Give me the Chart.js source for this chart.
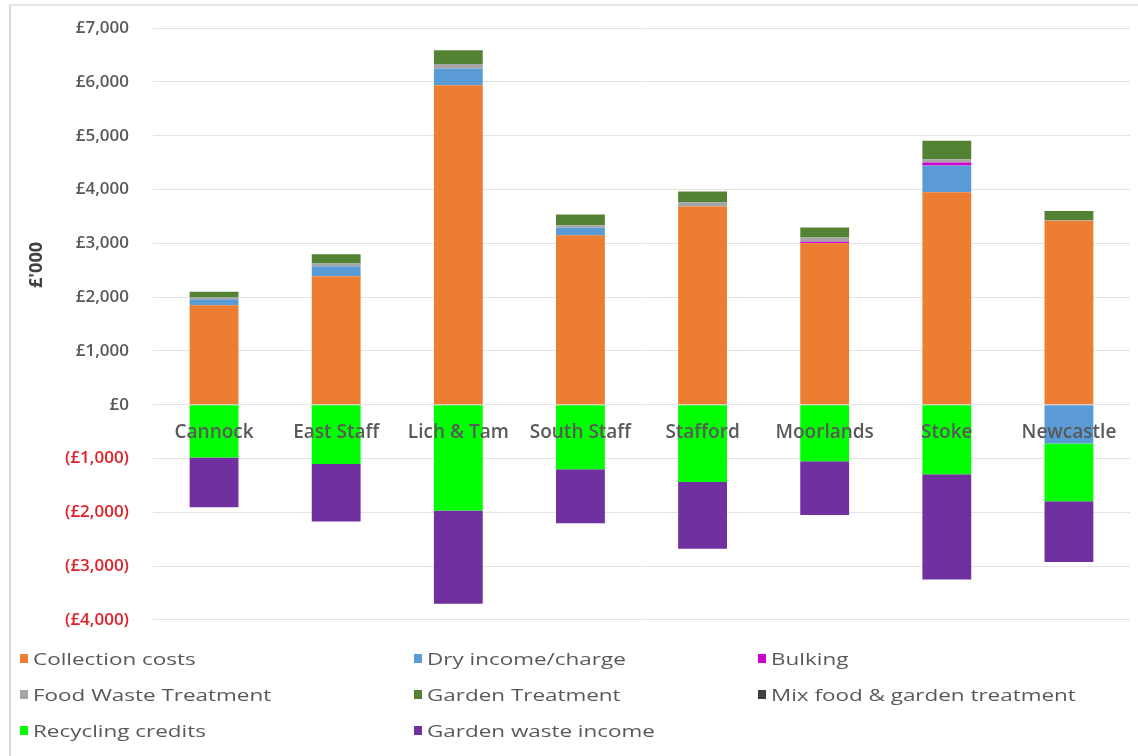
<!DOCTYPE html>
<html>
<head>
<meta charset="utf-8">
<script src="https://cdn.jsdelivr.net/npm/chart.js@4"></script>
<style>
  html, body { margin: 0; padding: 0; background: #fff; }
  body { width: 1138px; height: 756px; overflow: hidden; position: relative; font-family: "Open Sans", sans-serif; }
  #frame { position: absolute; left: 9px; top: 4px; width: 1129px; height: 752px; border-left: 2px solid #d9d9d9; border-top: 2px solid #e6e6e6; }
  #wrap { position: absolute; left: 11px; top: -6px; width: 1127px; height: 660px; }
  #legend { position: absolute; left: 20px; top: 640px; display: grid; grid-template-columns: 394px 344px auto; grid-auto-rows: 36px; }
  #legend div { display: flex; align-items: center; font-size: 17px; color: #595959; white-space: nowrap; }
  #legend span { display: inline-block; width: 8px; height: 9px; margin-right: 5px; }
  #legend em { font-style: normal; display: inline-block; transform: scaleX(1.32); transform-origin: left center; }
</style>
</head>
<body>
<div id="frame"></div>
<div id="wrap"><canvas id="costs_chart"></canvas></div>
<div id="legend"></div>
<script>
// councils, £'000
var categories = ['Cannock', 'East Staff', 'Lich & Tam', 'South Staff', 'Stafford', 'Moorlands', 'Stoke', 'Newcastle'];

var collectionCosts  = [1850, 2390, 5940, 3150, 3685, 3000, 3950, 3420];
var dryIncome        = [110, 185, 310, 140, 0, 0, 495, -720];
var bulking          = [0, 0, 0, 0, 0, 30, 60, 0];
var foodWaste        = [35, 50, 85, 45, 80, 80, 60, 15];
var gardenTreatment  = [105, 170, 255, 200, 200, 185, 340, 165];
var mixTreatment     = [0, 0, 0, 0, 0, 0, 0, 0];
var recyclingCredits = [-980, -1105, -1970, -1200, -1440, -1050, -1295, -1075];
var gardenIncome     = [-925, -1065, -1730, -1005, -1240, -1000, -1955, -1130];

var yTicks = [7000, 6000, 5000, 4000, 3000, 2000, 1000, 0, -1000, -2000, -3000, -4000];

function money(v) {
  var s = '£' + Math.abs(v).toLocaleString('en-GB');
  return v < 0 ? '(' + s + ')' : s;
}

function series(label, data, colour) {
  return { label: label, data: data, backgroundColor: colour, borderWidth: 0 };
}

// rotated "£'000" beside the value axis
var axisTitle = {
  id: 'axisTitle',
  afterDraw: function(chart) {
    var c = chart.ctx;
    c.save();
    c.translate(26, 271);
    c.rotate(-Math.PI / 2);
    c.font = 'bold 18px "Open Sans"';
    c.fillStyle = '#404040';
    c.textAlign = 'center';
    c.textBaseline = 'middle';
    c.fillText("£'000", 0, 0);
    c.restore();
  }
};

// three-column legend under the canvas
var htmlLegend = {
  id: 'htmlLegend',
  afterUpdate: function(chart) {
    var box = document.getElementById('legend');
    box.innerHTML = '';
    chart.data.datasets.forEach(function(ds) {
      var item = document.createElement('div');
      var sw = document.createElement('span');
      var txt = document.createElement('em');
      sw.style.background = ds.backgroundColor;
      txt.textContent = ds.label;
      item.appendChild(sw);
      item.appendChild(txt);
      box.appendChild(item);
    });
  }
};

var ctx = document.getElementById('costs_chart');
var chart = new Chart(ctx, {
  type: 'bar',
  data: {
    labels: categories,
    datasets: [
      series('Collection costs', collectionCosts, '#ED7D31'),
      series('Dry income/charge', dryIncome, '#5B9BD5'),
      series('Bulking', bulking, '#CC00CC'),
      series('Food Waste Treatment', foodWaste, '#A5A5A5'),
      series('Garden Treatment', gardenTreatment, '#548235'),
      series('Mix food & garden treatment', mixTreatment, '#404040'),
      series('Recycling credits', recyclingCredits, '#00FF00'),
      series('Garden waste income', gardenIncome, '#7030A0')
    ]
  },
  options: {
    responsive: true,
    maintainAspectRatio: false,
    animation: false,
    layout: { padding: { top: 0, right: 8, bottom: 6, left: 0 } },
    datasets: { bar: { categoryPercentage: 1, barPercentage: 0.4 } },
    plugins: {
      legend: { display: false },
      tooltip: { enabled: false }
    },
    scales: {
      x: {
        stacked: true,
        position: { y: 0 },
        grid: { display: false, drawTicks: false },
        border: { display: false },
        ticks: {
          z: 1,
          padding: 17,
          color: '#595959',
          font: { family: 'Open Sans', size: 19, weight: '600' }
        }
      },
      y: {
        stacked: true,
        min: -4000,
        max: 7000,
        afterFit: function(scale) { scale.width = 142; },
        afterBuildTicks: function(scale) {
          scale.ticks = yTicks.map(function(v) { return { value: v }; });
        },
        grid: { color: '#e3e3e3', drawTicks: false },
        border: { display: false },
        ticks: {
          padding: 24,
          color: function(c) { return c.tick.value < 0 ? '#E0202A' : '#595959'; },
          font: { family: 'Open Sans', size: 17, weight: '600' },
          callback: function(v) { return money(v); }
        }
      }
    }
  },
  plugins: [axisTitle, htmlLegend]
});
</script>
</body>
</html>
